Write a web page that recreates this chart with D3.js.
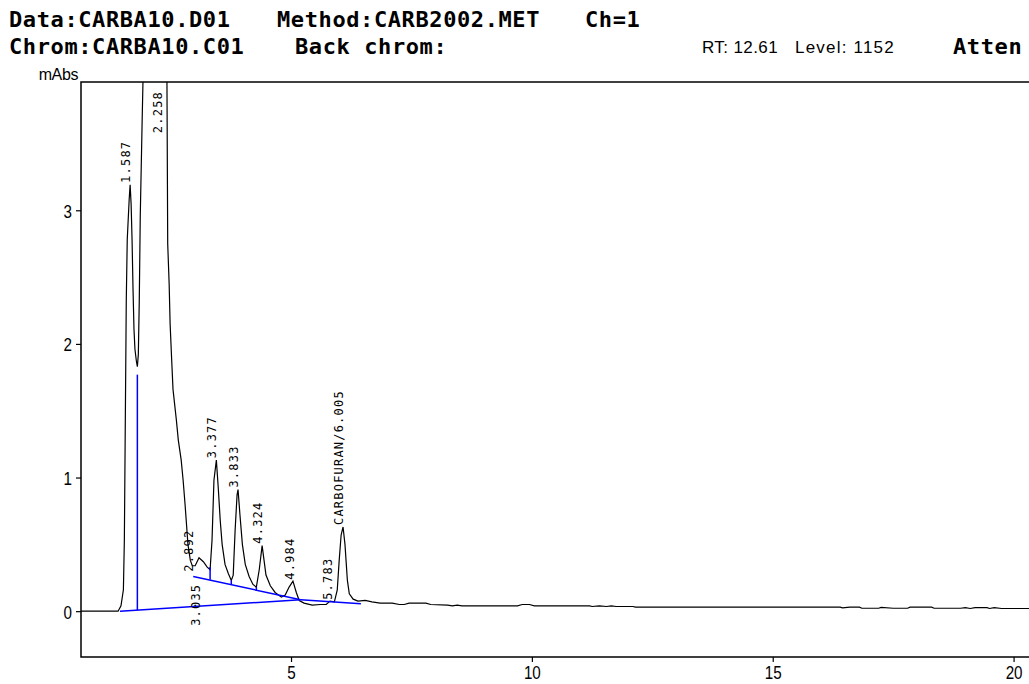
<!DOCTYPE html>
<html>
<head>
<meta charset="utf-8">
<script src="https://cdn.jsdelivr.net/npm/d3@7"></script>
<style>
  body { margin: 0; background: #fff; }
  svg { display: block; }
</style>
</head>
<body>
<div id="chart"></div>
<script>
// header lines of the report
const headerBold = [
  {text: "Data:CARBA10.D01", row: 0, col: 9},
  {text: "Method:CARB2002.MET", row: 0, col: 277},
  {text: "Ch=1", row: 0, col: 585},
  {text: "Chrom:CARBA10.C01", row: 1, col: 9},
  {text: "Back chrom:", row: 1, col: 295},
  {text: "Atten", row: 1, col: 953}
];
const headerPlain = [
  {text: "RT: 12.61", col: 702},
  {text: "Level: 1152", col: 795}
];

const xTicks = [5, 10, 15, 20];
const yTicks = [0, 1, 2, 3];

// detector trace: [minutes, mAbs]
const signal = [
  [0.64, 0], [1.41, 0], [1.47, 0.04], [1.52, 0.16], [1.54, 0.53], [1.56, 1.43], [1.58, 2.33],
  [1.60, 2.78], [1.64, 3.08], [1.66, 3.19], [1.68, 3.05], [1.70, 2.78], [1.72, 2.41], [1.74, 2.11],
  [1.76, 1.96], [1.79, 1.87], [1.81, 1.83], [1.83, 1.92], [1.85, 2.33], [1.87, 2.95], [1.91, 3.68],
  [1.93, 4.02], [2.2, 6.5], [2.42, 4.3], [2.44, 2.75], [2.47, 2.45], [2.49, 2.15], [2.52, 1.90],
  [2.55, 1.66], [2.62, 1.43], [2.66, 1.28], [2.72, 1.13], [2.76, 0.98], [2.80, 0.80], [2.83, 0.65],
  [2.86, 0.50], [2.91, 0.38], [2.95, 0.34], [3.01, 0.34], [3.09, 0.40], [3.18, 0.37], [3.26, 0.33],
  [3.32, 0.31], [3.36, 0.53], [3.40, 0.98], [3.45, 1.13], [3.49, 0.92], [3.53, 0.68], [3.57, 0.50],
  [3.63, 0.35], [3.70, 0.28], [3.76, 0.23], [3.80, 0.27], [3.84, 0.61], [3.88, 0.87], [3.90, 0.91],
  [3.94, 0.72], [3.99, 0.50], [4.05, 0.35], [4.13, 0.26], [4.21, 0.20], [4.28, 0.18], [4.34, 0.31],
  [4.40, 0.49], [4.44, 0.38], [4.48, 0.27], [4.57, 0.19], [4.67, 0.14], [4.80, 0.105], [4.88, 0.12],
  [4.96, 0.18], [5.04, 0.225], [5.11, 0.14], [5.17, 0.08], [5.27, 0.06], [5.44, 0.045], [5.61, 0.05],
  [5.73, 0.05], [5.81, 0.075], [5.90, 0.07], [5.96, 0.16], [6.00, 0.38], [6.04, 0.57], [6.08, 0.63],
  [6.12, 0.50], [6.17, 0.23], [6.21, 0.13], [6.29, 0.09], [6.39, 0.075], [6.54, 0.08], [6.68, 0.07],
  [6.85, 0.06], [7.1, 0.06], [7.25, 0.05], [7.35, 0.05], [7.45, 0.06], [7.8, 0.06], [7.9, 0.05],
  [8.25, 0.045], [8.35, 0.04], [8.45, 0.045], [8.55, 0.04], [9.7, 0.04], [9.8, 0.05], [9.95, 0.05],
  [10.05, 0.04], [11.2, 0.04], [11.25, 0.035], [11.4, 0.04], [11.55, 0.035], [11.65, 0.04],
  [11.75, 0.035], [12.1, 0.035], [12.15, 0.03], [16.4, 0.03], [16.45, 0.025], [16.6, 0.03],
  [16.8, 0.03], [16.85, 0.022], [17.2, 0.022], [17.25, 0.028], [17.5, 0.022], [17.8, 0.022],
  [17.85, 0.03], [18.3, 0.03], [18.35, 0.022], [18.9, 0.022], [19.0, 0.026], [19.1, 0.02],
  [19.2, 0.026], [19.45, 0.026], [19.5, 0.02], [19.6, 0.026], [19.75, 0.02], [20.4, 0.02]
];

// integration baselines and drop lines (blue)
const baselines = [
  [[1.45, 0.0], [5.2, 0.085]],
  [[5.2, 0.085], [6.45, 0.055]],
  [[2.97, 0.26], [5.2, 0.085]],
  [[1.81, 1.77], [1.81, 0.008]],
  [[3.32, 0.33], [3.32, 0.235]],
  [[3.76, 0.23], [3.76, 0.20]],
  [[4.28, 0.18], [4.28, 0.155]]
];

// peak table
const peakTimes = ["1.587", "2.258", "2.892", "3.035", "3.377", "3.833", "4.324", "4.984", "5.783", "6.005"];
const peakNames = ["", "", "", "", "", "", "", "", "", "CARBOFURAN/"];
const peakHeights = [3.19, 6.5, 0.28, 0.40, 1.13, 0.91, 0.49, 0.22, 0.07, 0.63];

const W = 1029, H = 684;
const margin = {top: 82, left: 81, bottom: 657, right: 1029};

const svg = d3.select("#chart").append("svg")
  .attr("width", W)
  .attr("height", H);

const x = d3.scaleLinear().domain([0.64, 20.32]).range([margin.left, margin.right]);
const y = d3.scaleLinear().domain([-0.343, 3.96]).range([margin.bottom, margin.top]);

// header
const mono = "'DejaVu Sans Mono', 'Liberation Mono', monospace";
const sans = "'Liberation Sans', Arial, sans-serif";
svg.append("g").selectAll("text")
  .data(headerBold)
  .enter().append("text")
  .attr("x", d => d.col)
  .attr("y", d => d.row === 0 ? 27 : 54)
  .attr("font-family", mono)
  .attr("font-weight", "bold")
  .attr("font-size", 22)
  .attr("letter-spacing", 0.6)
  .text(d => d.text);

svg.append("g").selectAll("text")
  .data(headerPlain)
  .enter().append("text")
  .attr("x", d => d.col)
  .attr("y", 53)
  .attr("font-family", sans)
  .attr("font-size", 17)
  .attr("letter-spacing", d => d.text.startsWith("Level") ? 1.2 : 0.4)
  .text(d => d.text);

svg.append("text")
  .attr("x", 78)
  .attr("y", 80)
  .attr("text-anchor", "end")
  .attr("font-family", sans)
  .attr("font-size", 16)
  .attr("letter-spacing", -0.4)
  .text("mAbs");

// frame
svg.append("path")
  .attr("d", `M${margin.right + 5},${margin.top}H${margin.left}V${margin.bottom}H${margin.right + 5}`)
  .attr("fill", "none")
  .attr("stroke", "#000")
  .attr("stroke-width", 1.5);

// axes, with tall narrow digits
const squeeze = 0.8;
const xAxis = svg.append("g")
  .attr("transform", `translate(0,${margin.bottom})`)
  .call(d3.axisBottom(x).tickValues(xTicks).tickSize(5).tickPadding(4).tickFormat(d3.format("d")));
const yAxis = svg.append("g")
  .attr("transform", `translate(${margin.left},0)`)
  .call(d3.axisLeft(y).tickValues(yTicks).tickSize(5).tickPadding(4).tickFormat(d3.format("d")));
[xAxis, yAxis].forEach(a => {
  a.select(".domain").remove();
  a.selectAll("line").attr("stroke", "#000").attr("stroke-width", 1.2);
  a.selectAll("text")
    .attr("fill", "#000")
    .attr("font-family", sans)
    .attr("font-size", 19)
    .attr("transform", `scale(${squeeze},1)`);
});
xAxis.selectAll("text").attr("x", 0);
yAxis.selectAll("text").attr("x", -9 / squeeze).attr("dy", "0.36em");

// plot area
svg.append("clipPath").attr("id", "plot-clip")
  .append("rect")
  .attr("x", margin.left)
  .attr("y", margin.top)
  .attr("width", margin.right - margin.left)
  .attr("height", margin.bottom - margin.top);

const plot = svg.append("g").attr("clip-path", "url(#plot-clip)");

const line = d3.line()
  .x(d => x(d[0]))
  .y(d => y(d[1]));

plot.append("path")
  .datum(signal)
  .attr("fill", "none")
  .attr("stroke", "#000")
  .attr("stroke-width", 1.2)
  .attr("d", line);

plot.selectAll(".base")
  .data(baselines)
  .enter().append("path")
  .attr("class", "base")
  .attr("fill", "none")
  .attr("stroke", "#0000ff")
  .attr("stroke-width", 1.5)
  .attr("d", line);

// peak labels, rotated, sitting on the peak apex
const labels = svg.append("g");
let prev = null;
peakTimes.forEach((rt, i) => {
  const px = x(+rt);
  const t = labels.append("text")
    .attr("font-family", mono)
    .attr("font-size", 12)
    .attr("letter-spacing", 1.2)
    .attr("dominant-baseline", "middle")
    .text(peakNames[i] + rt);
  const len = t.node().getComputedTextLength() + 1.2 * (peakNames[i] + rt).length;
  let bottom = Math.max(y(peakHeights[i]) - 2, margin.top + 3 + len);
  // crowded labels drop under their neighbour
  if (prev && px - prev.x < 9) bottom = prev.bottom + len + 6;
  t.attr("transform", `translate(${px},${bottom}) rotate(-90)`);
  prev = {x: px, bottom: bottom};
});
</script>
</body>
</html>
